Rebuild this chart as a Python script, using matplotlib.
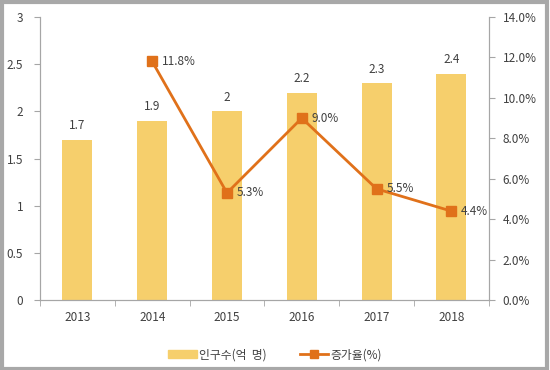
import matplotlib.pyplot as plt
import matplotlib.patches as mpatches
import numpy as np

plt.rcParams['font.family'] = ['Noto Sans CJK KR', 'DejaVu Sans']

years = ["2013", "2014", "2015", "2016", "2017", "2018"]
population = [1.7, 1.9, 2.0, 2.2, 2.3, 2.4]
growth_years = ["2014", "2015", "2016", "2017", "2018"]
growth = [11.8, 5.3, 9.0, 5.5, 4.4]

bar_color = "#F6CF6C"
line_color = "#E0711A"
axis_color = "#A6A6A6"
text_color = "#404040"

fig = plt.figure(figsize=(5.5, 3.7), dpi=100)
ax = fig.add_axes([0.0727, 0.189, 0.816, 0.765])
ax2 = ax.twinx()

x = np.arange(len(years))
ax.bar(x, population, width=0.4, color=bar_color, zorder=2)
for xi, v in zip(x, population):
    ax.text(xi, v + 0.08, f"{v:g}", ha="center", va="bottom", fontsize=8.5, color=text_color)

gx = [years.index(y) for y in growth_years]
ax2.plot(gx, growth, color=line_color, lw=2, marker="s", ms=6.5, zorder=3)
for xi, v in zip(gx, growth):
    ax2.text(xi + 0.13, v, f"{v:.1f}%", ha="left", va="center", fontsize=8.5, color=text_color)

ax.set_xlim(-0.5, len(years) - 0.5)
ax.set_ylim(0, 3)
ax2.set_ylim(0, 14)
ax.set_yticks(np.arange(0, 3.01, 0.5))
ax.set_yticklabels(["0", "0.5", "1", "1.5", "2", "2.5", "3"])
ax2.set_yticks(np.arange(0, 14.1, 2))
ax2.set_yticklabels([f"{t:.1f}%" for t in np.arange(0, 14.1, 2)])

ax.set_xticks(x)
ax.set_xticklabels(years)
ax.set_xticks(np.arange(-0.5, len(years), 1), minor=True)
ax.tick_params(axis="x", which="major", length=0, pad=8)
ax.tick_params(axis="x", which="minor", length=4, color=axis_color)

for a in (ax, ax2):
    a.spines["top"].set_visible(False)
    for s in ("left", "right", "bottom"):
        a.spines[s].set_color(axis_color)
    a.tick_params(labelsize=8.5, labelcolor=text_color, color=axis_color)
ax.tick_params(axis="y", length=4, pad=8)
ax2.tick_params(axis="y", length=4, pad=6)

handles = [
    mpatches.Patch(color=bar_color, label="인구수(억  명)"),
    plt.Line2D([], [], color=line_color, lw=2, marker="s", ms=6, label="증가율(%)"),
]
fig.legend(handles=handles, loc="lower center", bbox_to_anchor=(0.5, -0.005), ncol=2,
           frameon=False, fontsize=8.5, handlelength=2.4, handletextpad=0.2,
           columnspacing=2.8, labelcolor=text_color)

# outer frame
fig.patches.append(mpatches.Rectangle((0.003, 0.004), 0.991, 0.99, transform=fig.transFigure,
                                      fill=False, edgecolor="#A8A8A8", lw=3))

fig.savefig("out.png", dpi=100)
